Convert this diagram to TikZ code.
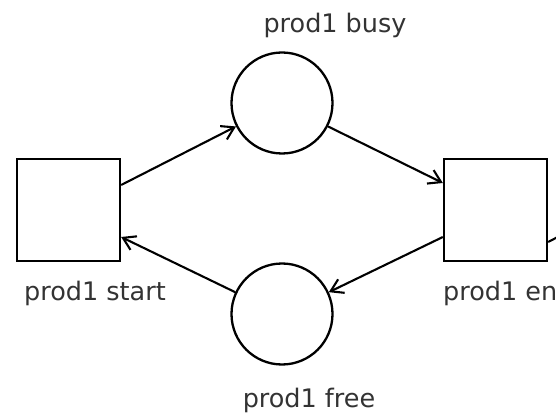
\documentclass[tikz,border=0pt]{standalone}
\usepackage{fontspec}
\setmainfont{DejaVu Sans}
\usetikzlibrary{arrows.meta,positioning}

\begin{document}
\begin{tikzpicture}[
  x=1pt,y=1pt,
  every node/.style={font=\fontsize{25.5}{28}\selectfont},
  trans/.style={draw,line width=2.3pt,minimum width=103pt,minimum height=102pt,inner sep=0pt},
  place/.style={draw,circle,line width=2.3pt,minimum size=101pt,inner sep=0pt},
  lbl/.style={text=black!80,inner sep=0pt},
  arc/.style={-{Straight Barb[length=12pt,width=15pt]},line width=2.1pt}
]
\useasboundingbox (0,0) rectangle (556,415);
\node[trans] (pstart) at (68.5,205) {};
\node[trans] (pend) at (495.5,205) {};
\node[place] (pbusy) at (282,312) {};
\node[place] (pfree) at (282,101) {};
\node[lbl] (lstart) at (95,122) {prod1 start};
\node[lbl,anchor=west] (lend) at (443,122) {prod1 end};
\node[lbl] (lbusy) at (335,390) {prod1 busy};
\node[lbl] (lfree) at (309,15) {prod1 free};
\coordinate (out) at (575,187);
\draw[arc] ([yshift=25pt]pstart.east) -- (pbusy.207);
\draw[arc] (pbusy.333) -- ([yshift=27pt]pend.west);
\draw[arc] ([yshift=-27pt]pend.west) -- (pfree.25);
\draw[arc] (pfree.155) -- ([yshift=-27pt]pstart.east);
\draw[line width=2.1pt] ([yshift=-32pt]pend.east) -- (out);
\end{tikzpicture}
\end{document}
